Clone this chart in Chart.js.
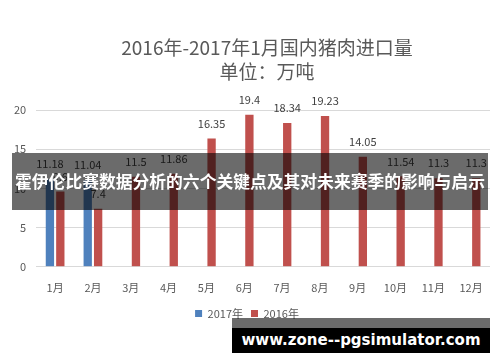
<!DOCTYPE html>
<html>
<head>
<meta charset="utf-8">
<script src="https://cdn.jsdelivr.net/npm/chart.js@4"></script>
<style>
  html, body { margin: 0; padding: 0; background: #fff; }
  #wrap { position: relative; width: 500px; height: 362px; overflow: hidden; }
  #banner {
    position: absolute; left: 12px; top: 153px; width: 476px; height: 57px;
    background: rgba(0, 0, 0, 0.58); color: #fff;
    font-family: "Noto Sans CJK SC", sans-serif; font-weight: bold; font-size: 16.8px;
    line-height: 57px; text-align: center; white-space: nowrap;
  }
  #wmTop { position: absolute; left: 232px; top: 318px; width: 258px; height: 10px; background: rgba(0, 0, 0, 0.58); }
  #wm {
    position: absolute; left: 232px; top: 328px; width: 258px; height: 25px;
    background: #000; color: #fff; text-align: center;
    font-family: "DejaVu Sans", sans-serif; font-weight: bold; font-size: 15px; line-height: 25px;
  }
</style>
</head>
<body>
<div id="wrap">
  <canvas id="myChart" width="500" height="362"></canvas>
  <div id="banner">霍伊伦比赛数据分析的六个关键点及其对未来赛季的影响与启示</div>
  <div id="wmTop"></div>
  <div id="wm">www.zone--pgsimulator.com</div>
</div>
<script>
// 月份
var months = ["1月", "2月", "3月", "4月", "5月", "6月", "7月", "8月", "9月", "10月", "11月", "12月"];
// 2017年（只有前两个月）
var data2017 = [11.18, 11.04, null, null, null, null, null, null, null, null, null, null];
// 2016年（1月的数值被横幅挡住，估计）
var data2016 = [9.6, 7.4, 11.5, 11.86, 16.35, 19.4, 18.34, 19.23, 14.05, 11.54, 11.3, 11.3];
var yTicks = [0, 5, 10, 15, 20];

var titleLines = ["2016年-2017年1月国内猪肉进口量", "单位：万吨"];
var textColor = "#595959";
var cjkFont = '"Noto Sans CJK SC", sans-serif';

// 标题
var titlePlugin = {
    id: "titleLines",
    afterDraw: function(chart){
        var c = chart.ctx;
        c.save();
        c.fillStyle = textColor;
        c.font = "19px " + cjkFont;
        c.textAlign = "center";
        c.textBaseline = "middle";
        c.fillText(titleLines[0], 267, 48);
        c.fillText(titleLines[1], 267, 72);
        c.restore();
    }
};

// 数据标签
var labelPlugin = {
    id: "barLabels",
    afterDatasetsDraw: function(chart){
        var c = chart.ctx;
        c.save();
        c.fillStyle = "#404040";
        c.font = "11px " + cjkFont;
        c.textAlign = "center";
        c.textBaseline = "middle";
        chart.data.datasets.forEach(function(ds, i){
            var meta = chart.getDatasetMeta(i);
            meta.data.forEach(function(bar, j){
                if(ds.data[j] == null) return;
                c.fillText(String(ds.data[j]), bar.x, bar.y - 15);
            });
        });
        c.restore();
    }
};

var ctx = document.getElementById("myChart");
var chart = new Chart(ctx, {
    type: "bar",
    data: {
        labels: months,
        datasets: [{
            label: "2017年",
            data: data2017,
            backgroundColor: "#4F81BD",
            categoryPercentage: 0.55,
            barPercentage: 0.8
        }, {
            label: "2016年",
            data: data2016,
            backgroundColor: "#C0504D",
            categoryPercentage: 0.55,
            barPercentage: 0.8
        }]
    },
    options: {
        responsive: false,
        animation: false,
        layout: { padding: { top: 110, left: 4, right: 10, bottom: 33 } },
        plugins: {
            title: { display: false },
            tooltip: { enabled: false },
            legend: {
                position: "bottom",
                labels: {
                    boxWidth: 7, boxHeight: 7, padding: 8,
                    color: textColor,
                    font: { size: 11, family: cjkFont }
                }
            }
        },
        scales: {
            x: {
                grid: { display: false },
                border: { display: false },
                ticks: { color: textColor, font: { size: 11, family: cjkFont }, padding: 6 }
            },
            y: {
                min: 0, max: 20,
                afterBuildTicks: function(axis){
                    axis.ticks = yTicks.map(function(v){ return { value: v }; });
                },
                grid: { color: "#d9d9d9", drawTicks: false },
                border: { display: false },
                ticks: { color: textColor, font: { size: 11, family: cjkFont }, padding: 10 }
            }
        }
    },
    plugins: [titlePlugin, labelPlugin]
});
</script>
</body>
</html>
